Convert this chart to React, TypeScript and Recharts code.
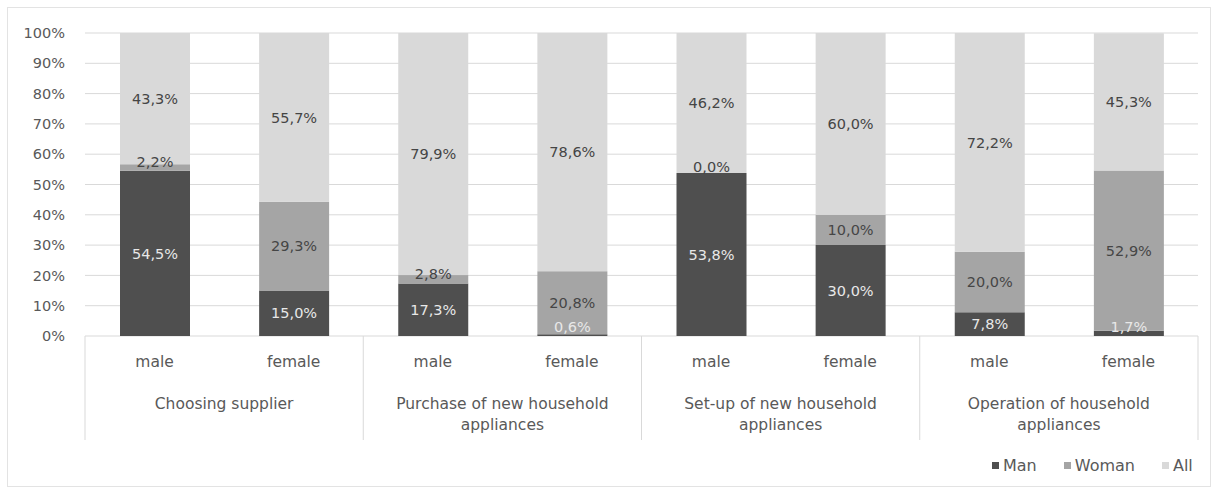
import React from "react";
import { BarChart, Bar, XAxis, YAxis, CartesianGrid, Legend } from "recharts";

const genders = ["male", "female", "male", "female", "male", "female", "male", "female"];
const groupLines = [
  ["Choosing supplier"],
  ["Purchase of new household", "appliances"],
  ["Set-up of new household", "appliances"],
  ["Operation of household", "appliances"],
];
const manValues = [54.5, 15.0, 17.3, 0.6, 53.8, 30.0, 7.8, 1.7];
const womanValues = [2.2, 29.3, 2.8, 20.8, 0.0, 10.0, 20.0, 52.9];
const allValues = [43.3, 55.7, 79.9, 78.6, 46.2, 60.0, 72.2, 45.3];
const yTicks = [0, 10, 20, 30, 40, 50, 60, 70, 80, 90, 100];

const seriesNames = ["Man", "Woman", "All"];
const seriesKeys = ["man", "woman", "all"];
const seriesColors = ["#4f4f4f", "#a5a5a5", "#d9d9d9"];
const labelColors = ["#e8e8e8", "#454545", "#454545"];

const data = genders.map((g, i) => ({
  gender: g,
  man: manValues[i],
  woman: womanValues[i],
  all: allValues[i],
}));

const W = 1217;
const H = 495;
const M = { top: 33, right: 19, bottom: 49, left: 0 };
const Y_W = 85;
const X_H = 110;
const PLOT_W = W - M.left - M.right - Y_W;
const BAND = PLOT_W / genders.length;
const FONT = "'DejaVu Sans', sans-serif";
const AXIS_COLOR = "#595959";
const LINE_COLOR = "#d9d9d9";

const fmt = (v: number) => v.toFixed(1).replace(".", ",") + "%";

const XTick = (props: any) => {
  const { x, y, index, payload } = props;
  const gi = Math.floor(index / 2);
  const isFirst = index % 2 === 0;
  const isLast = index === genders.length - 1;
  return (
    <g>
      <text x={x} y={y + 31} textAnchor="middle" fill={AXIS_COLOR} fontSize={15.5} fontFamily={FONT}>
        {payload.value}
      </text>
      {isFirst && (
        <line x1={x - BAND / 2} x2={x - BAND / 2} y1={y} y2={y + 104} stroke={LINE_COLOR} strokeWidth={1} />
      )}
      {isLast && (
        <line x1={x + BAND / 2} x2={x + BAND / 2} y1={y} y2={y + 104} stroke={LINE_COLOR} strokeWidth={1} />
      )}
      {isFirst &&
        groupLines[gi].map((ln, k) => (
          <text
            key={k}
            x={x + BAND / 2}
            y={y + 73 + k * 21}
            textAnchor="middle"
            fill={AXIS_COLOR}
            fontSize={15.5}
            fontFamily={FONT}
          >
            {ln}
          </text>
        ))}
    </g>
  );
};

const Lbl = ({ x, y, si, v }: { x: number; y: number; si: number; v: number }) => (
  <text x={x} y={y} dy="0.36em" textAnchor="middle" fill={labelColors[si]} fontSize={14.5} fontFamily={FONT}>
    {fmt(v)}
  </text>
);

// Top segment: draws its own rect, then the labels of the whole stack, using the
// pixel scale implied by this rect (height / value).
const TopShape = (props: any) => {
  const { x, y, width, height, fill, payload } = props;
  const unit = height / payload.all;
  const zeroY = y + height + (payload.man + payload.woman) * unit;
  const cx = x + width / 2;
  const manH = payload.man * unit;
  const womanH = payload.woman * unit;
  let manCy = zeroY - manH / 2;
  manCy = Math.min(manCy, zeroY - 9);
  let womanCy = zeroY - manH - womanH / 2;
  if (womanH < 16) womanCy -= 6;
  const allCy = y + height / 2;
  return (
    <g>
      <rect x={x} y={y} width={width} height={height} fill={fill} />
      <Lbl x={cx} y={manCy} si={0} v={payload.man} />
      <Lbl x={cx} y={womanCy} si={1} v={payload.woman} />
      <Lbl x={cx} y={allCy} si={2} v={payload.all} />
    </g>
  );
};

const LegendContent = () => (
  <div style={{ display: "flex", alignItems: "center", fontFamily: FONT, fontSize: 16, color: AXIS_COLOR }}>
    {seriesNames.map((n, i) => (
      <div key={n} style={{ display: "flex", alignItems: "center", marginRight: i < seriesNames.length - 1 ? 27 : 0 }}>
        <span style={{ display: "inline-block", width: 7, height: 7, background: seriesColors[i], marginRight: 4 }} />
        <span>{n}</span>
      </div>
    ))}
  </div>
);

export default function App() {
  return (
    <div style={{ position: "absolute", left: 0, top: 0, width: W, height: H, background: "#fff" }}>
      <div
        style={{
          position: "absolute",
          left: 7,
          top: 7,
          width: 1204,
          height: 480,
          border: "1px solid #e3e3e3",
          boxSizing: "border-box",
        }}
      />
      <div style={{ position: "absolute", left: 0, top: 0 }}>
        <BarChart width={W} height={H} data={data} margin={M} barSize={70}>
          <CartesianGrid vertical={false} stroke={LINE_COLOR} />
          <XAxis
            dataKey="gender"
            height={X_H}
            axisLine={false}
            tickLine={false}
            tickSize={0}
            tickMargin={0}
            interval={0}
            tick={<XTick />}
          />
          <YAxis
            width={Y_W}
            domain={[0, 100]}
            ticks={yTicks}
            tickFormatter={(v: number) => v + "%"}
            axisLine={false}
            tickLine={false}
            tickSize={0}
            tickMargin={20}
            tick={{ fill: AXIS_COLOR, fontSize: 14.5, fontFamily: FONT }}
          />
          <Legend
            layout="vertical"
            align="center"
            verticalAlign="middle"
            content={<LegendContent />}
            wrapperStyle={{ top: 456, left: 992, width: 225, height: 20, bottom: "auto", right: "auto" }}
          />
          {seriesKeys.map((k, i) => (
            <Bar
              key={k}
              dataKey={k}
              name={seriesNames[i]}
              stackId="s"
              fill={seriesColors[i]}
              isAnimationActive={false}
              shape={i === 2 ? <TopShape /> : undefined}
            />
          ))}
        </BarChart>
      </div>
    </div>
  );
}
